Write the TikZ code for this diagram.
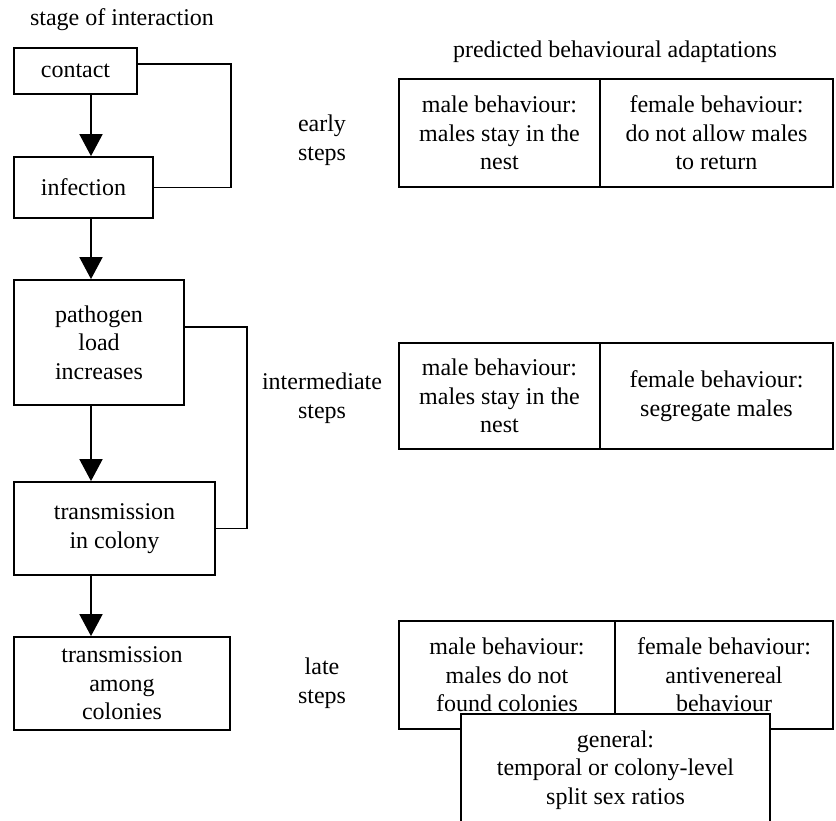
\documentclass[tikz,border=0pt]{standalone}
\usepackage{fontspec}
\setmainfont{Liberation Serif}
\usepackage{tikz}
\usetikzlibrary{arrows.meta,positioning,calc}

\begin{document}
\begin{tikzpicture}[
  x=0.5pt, y=-0.5pt,
  >={Triangle[length=11pt,width=11.5pt]},
  every node/.style={font=\fontsize{12}{14.25}\selectfont},
  stagebox/.style={draw, line width=0.9pt, inner sep=0pt, align=center},
  cell/.style={draw, line width=0.9pt, inner sep=0pt, align=center, fill=white, minimum height=54pt},
  arr/.style={->, line width=0.9pt},
  back/.style={line width=0.9pt},
]
  \useasboundingbox (0,0) rectangle (836,820);
  \coordinate (spine) at (91,0);

  \node[anchor=base] (stagehead) at (122,25) {stage of interaction};
  \node[anchor=base] (predhead) at (615,57) {predicted behavioural adaptations};

  \node[stagebox, minimum width=61.5pt, minimum height=23pt]   (contact)   at (75.5,71)   {contact};
  \node[stagebox, minimum width=69.5pt, minimum height=30.5pt] (infection) at (83.5,187.5) {infection};
  \node[stagebox, minimum width=85pt, minimum height=62.5pt]   (pathogen)  at (99,342.5)  {pathogen\\load\\increases};
  \node[stagebox, minimum width=100.5pt, minimum height=46.5pt] (colony)   at (114.5,528.5) {transmission\\in colony};
  \node[stagebox, minimum width=108pt, minimum height=46.5pt]  (among)     at (122,683.5) {transmission\\among\\colonies};

  \draw[arr] (contact.south -| spine) -- (infection.north -| spine);
  \draw[arr] (infection.south -| spine) -- (pathogen.north -| spine);
  \draw[arr] (pathogen.south -| spine) -- (colony.north -| spine);
  \draw[arr] (colony.south -| spine) -- (among.north -| spine);

  \draw[back] ($(contact.east)+(0,-7)$) -| ($(infection.east)+(77,0)$) -- (infection.east);
  \draw[back] ($(pathogen.east)+(0,-15.5)$) -| ($(colony.east)+(31,0)$) -- (colony.east);

  \node[align=center] (early) at (322,140) {early\\steps};
  \node[align=center] (mid)   at (322,398) {intermediate\\steps};
  \node[align=center] (late)  at (322,683) {late\\steps};

  \node[cell, minimum width=100.5pt] (earlymale)   at (499.5,133) {male behaviour:\\males stay in the\\nest};
  \node[cell, minimum width=116.5pt] (earlyfemale) at (716.5,133) {female behaviour:\\do not allow males\\to return};

  \node[cell, minimum width=100.5pt, minimum height=53pt] (midmale)   at (499.5,396) {male behaviour:\\males stay in the\\nest};
  \node[cell, minimum width=116.5pt, minimum height=53pt] (midfemale) at (716.5,396) {female behaviour:\\segregate males};

  \node[cell, minimum width=108pt] (latemale)   at (507,675) {male behaviour:\\males do not\\found colonies};
  \node[cell, minimum width=109pt] (latefemale) at (724,675) {female behaviour:\\antivenereal\\behaviour};
  \node[cell, minimum width=154.5pt, minimum height=56pt] (general) at (615.5,770) {general:\\temporal or colony-level\\split sex ratios};
\end{tikzpicture}
\end{document}
